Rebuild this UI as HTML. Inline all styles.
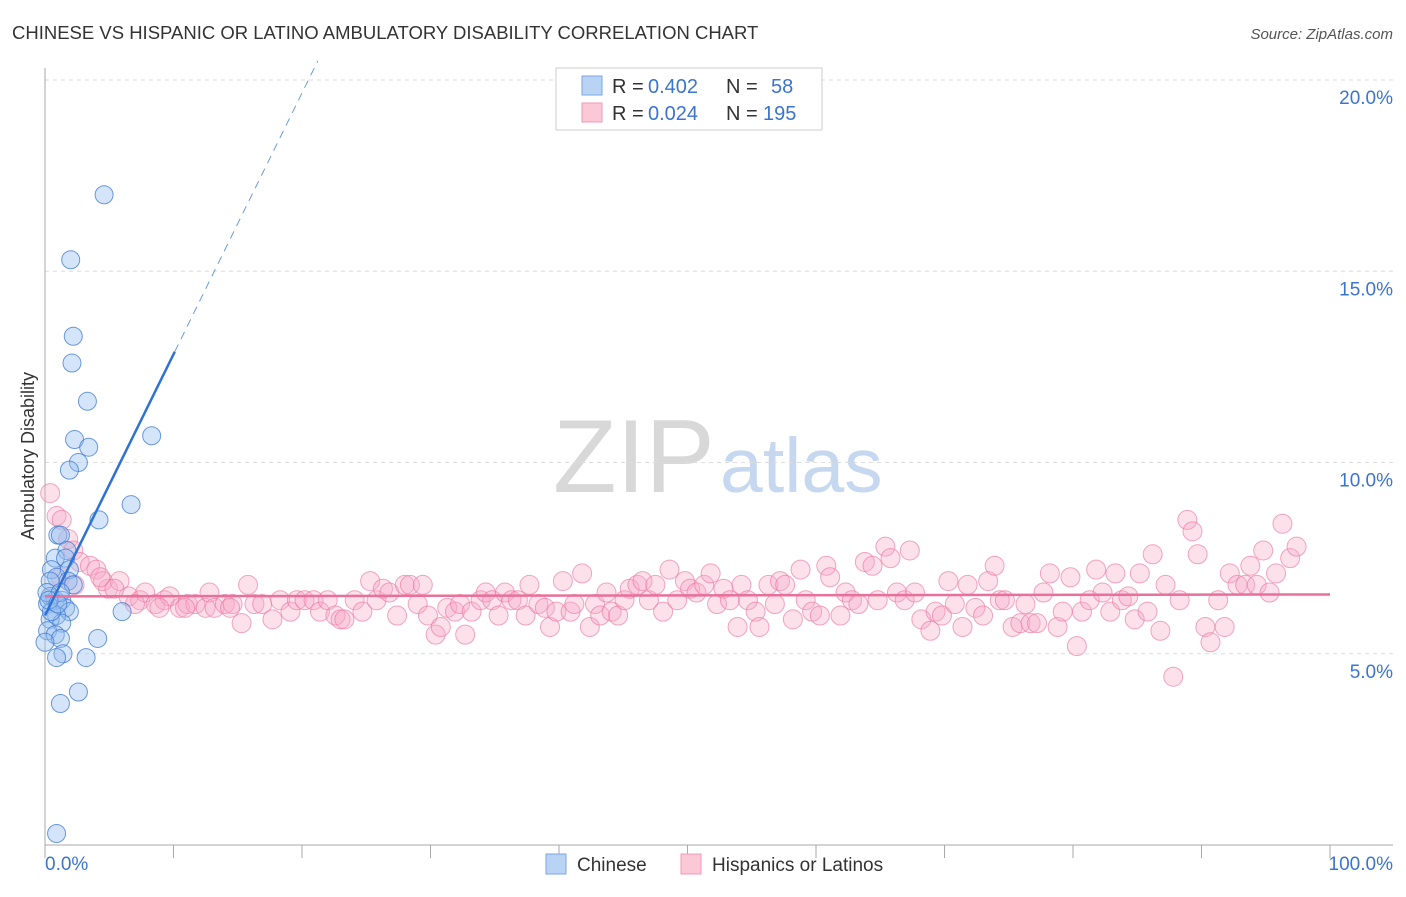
<!DOCTYPE html>
<html><head><meta charset="utf-8">
<style>
body{margin:0;background:#fff;font-family:"Liberation Sans",sans-serif;}
svg text{font-family:"Liberation Sans",sans-serif;}
</style></head>
<body>
<svg id="chart" width="1406" height="892" xmlns="http://www.w3.org/2000/svg">
<text x="12" y="39" font-size="18.5" fill="#333">CHINESE VS HISPANIC OR LATINO AMBULATORY DISABILITY CORRELATION CHART</text>
<text x="1393" y="39" font-size="15" fill="#555" text-anchor="end" font-style="italic">Source: ZipAtlas.com</text>
<g>
<text x="553" y="492" font-size="104" font-family="Liberation Serif" fill="#d8d8d8">ZIP</text>
<text x="720" y="492" font-size="77" fill="#c6d8f0">atlas</text>
</g>
<text transform="translate(34,456) rotate(-90)" font-size="18" fill="#333" text-anchor="middle">Ambulatory Disability</text>
<g id="grid"></g>
<g id="axes"></g>
<g id="marks"></g>
<g>
<rect x="556" y="68" width="266" height="62" fill="#fff" stroke="#ccc"/>
<rect x="582" y="76" width="20" height="19" fill="#b9d3f5" stroke="#7aa6e6"/>
<text x="612" y="93" font-size="20" fill="#333">R =</text>
<text x="648" y="93" font-size="20" fill="#3b74d0">0.402</text>
<text x="726" y="93" font-size="20" fill="#333">N =</text>
<text x="771" y="93" font-size="20" fill="#3b74d0">58</text>
<rect x="582" y="103" width="20" height="19" fill="#fbc8d8" stroke="#f09ab8"/>
<text x="612" y="120" font-size="20" fill="#333">R =</text>
<text x="648" y="120" font-size="20" fill="#3b74d0">0.024</text>
<text x="726" y="120" font-size="20" fill="#333">N =</text>
<text x="763" y="120" font-size="20" fill="#3b74d0">195</text>
</g>
<g>
<rect x="546" y="854" width="20" height="20" fill="#b9d3f5" stroke="#7aa6e6"/>
<text x="577" y="871" font-size="19" fill="#333">Chinese</text>
<rect x="681" y="854" width="20" height="20" fill="#fbc8d8" stroke="#f09ab8"/>
<text x="712" y="871" font-size="19" fill="#333">Hispanics or Latinos</text>
</g>
</svg>
<script>
const yTicks=[5,10,15,20];
const yTickLabels=["5.0%","10.0%","15.0%","20.0%"];
const xTickValues=[0,10,20,30,40,50,60,70,80,90,100];
const xEndLabels=["0.0%","100.0%"];
const blueX=[4.6,2.0,2.2,2.1,3.3,8.3,2.3,3.4,2.6,1.9,6.7,4.2,1.0,1.2,1.7,0.8,1.6,0.5,1.9,0.9,1.8,0.4,2.2,0.4,0.8,1.3,0.2,1.6,1.9,6.0,0.9,0.4,1.3,0.2,0.8,1.2,4.1,1.4,0.9,3.2,2.6,1.2,0.9,0.15,0.5,1.2,0.0,0.3,1.0];
const blueY=[17.0,15.3,13.3,12.6,11.6,10.7,10.6,10.4,10.0,9.8,8.9,8.5,8.1,8.1,7.7,7.5,7.5,7.2,7.2,7.0,6.9,6.9,6.8,6.5,6.4,6.4,6.3,6.2,6.1,6.1,6.0,5.9,5.8,5.6,5.5,5.4,5.4,5.0,4.9,4.9,4.0,3.7,0.3,6.6,6.1,6.6,5.3,6.4,6.3];
const pinkX=[0.4,0.9,1.3,1.8,2.2,2.7,3.5,4.0,4.9,4.5,5.8,6.5,7.4,7.8,8.6,9.3,9.7,10.5,11.1,11.7,12.5,12.8,13.2,14.0,14.6,15.3,15.8,16.3,16.9,17.7,18.3,19.1,19.6,20.2,20.9,21.4,22.0,22.6,23.0,23.3,24.1,24.7,25.3,25.8,26.3,26.8,27.4,28.0,28.4,29.0,29.4,29.8,30.4,30.8,31.3,31.9,32.3,32.7,33.2,33.9,34.3,34.8,35.3,35.8,36.3,36.8,37.4,37.7,38.4,38.9,39.3,39.8,40.3,40.9,41.2,41.8,42.4,42.8,43.2,43.7,44.1,44.6,45.1,45.5,46.1,46.5,47.0,47.5,48.1,48.6,49.2,49.8,50.2,50.7,51.3,51.8,52.3,52.8,53.3,53.9,54.2,54.7,55.3,55.6,56.3,56.8,57.2,57.6,58.2,58.8,59.2,59.7,60.3,60.8,61.1,61.9,62.3,62.8,63.3,63.8,64.4,64.8,65.4,65.8,66.3,66.9,67.3,67.7,68.2,68.9,69.3,69.8,70.3,70.8,71.4,71.8,72.4,73.0,73.4,73.9,74.3,74.7,75.3,75.9,76.3,76.7,77.2,77.7,78.2,78.8,79.2,79.8,80.3,80.7,81.3,81.8,82.3,82.9,83.3,83.8,84.3,84.8,85.2,85.8,86.2,86.8,87.2,87.8,88.3,88.9,89.3,89.7,90.3,90.7,91.3,91.8,92.2,92.8,93.4,93.8,94.3,94.8,95.3,95.8,96.3,96.9,97.4,1.2,2.3,4.3,5.4,7.0,8.9,10.9,14.4];
const pinkY=[9.2,8.6,8.5,8.0,7.7,7.4,7.3,7.2,6.7,6.9,6.9,6.5,6.4,6.6,6.3,6.4,6.5,6.2,6.3,6.3,6.2,6.6,6.2,6.3,6.3,5.8,6.8,6.3,6.3,5.9,6.4,6.1,6.4,6.4,6.4,6.1,6.4,6.0,5.9,5.9,6.4,6.1,6.9,6.4,6.7,6.6,6.0,6.8,6.8,6.3,6.8,6.0,5.5,5.7,6.2,6.1,6.3,5.5,6.1,6.4,6.6,6.4,6.0,6.6,6.4,6.4,6.0,6.8,6.3,6.2,5.7,6.1,6.9,6.1,6.3,7.1,5.7,6.3,6.0,6.6,6.1,6.0,6.4,6.7,6.8,6.9,6.4,6.8,6.1,7.2,6.4,6.9,6.7,6.6,6.8,7.1,6.3,6.7,6.4,5.7,6.8,6.4,6.1,5.7,6.8,6.3,6.9,6.8,5.9,7.2,6.4,6.1,6.0,7.3,7.0,6.0,6.6,6.4,6.3,7.4,7.3,6.4,7.8,7.5,6.6,6.4,7.7,6.6,5.9,5.6,6.1,6.0,6.9,6.3,5.7,6.8,6.2,6.0,6.9,7.3,6.4,6.4,5.7,5.8,6.3,5.8,5.8,6.6,7.1,5.7,6.1,7.0,5.2,6.1,6.4,7.2,6.6,6.1,7.1,6.4,6.5,5.9,7.1,6.1,7.6,5.6,6.8,4.4,6.4,8.5,8.2,7.6,5.7,5.3,6.4,5.7,7.1,6.8,6.8,7.3,6.8,7.7,6.6,7.1,8.4,7.5,7.8,7.0,6.8,7.0,6.7,6.3,6.2,6.2,6.2];
const blueFit=[6.0,0.683];
const pinkFit=[6.5,0.0005];

const X0=45,X1=1330,Y0=845,Y20=80;
const xs=v=>X0+(X1-X0)*v/100;
const ys=v=>Y0-(Y0-Y20)*v/20;
const NS="http://www.w3.org/2000/svg";
function mk(parent,tag,attrs){const e=document.createElementNS(NS,tag);for(const k in attrs)e.setAttribute(k,attrs[k]);parent.appendChild(e);return e;}
const grid=document.getElementById('grid'),axes=document.getElementById('axes'),marks=document.getElementById('marks');
yTicks.forEach((t,i)=>{
  const l=mk(grid,'line',{x1:X0,x2:1393,y1:ys(t),y2:ys(t),stroke:'#ddd','stroke-dasharray':'4,4'});
  
  
  const tx=mk(axes,'text',{x:1393,y:ys(t)+24,'font-size':19,fill:'#3b74d0','text-anchor':'end'});
  tx.textContent=yTickLabels[i];
  
  
});
const al=mk(axes,'line',{x1:X0,x2:X0,y1:68,y2:Y0,stroke:'#aaa'});


const bl=mk(axes,'line',{x1:X0,x2:1393,y1:Y0,y2:Y0,stroke:'#aaa'});


xTickValues.forEach(t=>{
  const tk=mk(axes,'line',{x1:xs(t),x2:xs(t),y1:Y0,y2:Y0+13,stroke:'#aaa'});
  
  
});
const xl0=mk(axes,'text',{x:X0,y:870,'font-size':19,fill:'#3b74d0','text-anchor':'start'});xl0.textContent=xEndLabels[0];


const xl1=mk(axes,'text',{x:1393,y:870,'font-size':19,fill:'#3b74d0','text-anchor':'end'});xl1.textContent=xEndLabels[1];


pinkX.forEach((x,i)=>{
  const c=mk(marks,'circle',{cx:xs(x),cy:ys(pinkY[i]),r:9.5,fill:'rgba(247,170,198,0.35)',stroke:'rgba(236,120,160,0.65)','stroke-width':1});
  
  
});
blueX.forEach((x,i)=>{
  const c=mk(marks,'circle',{cx:xs(x),cy:ys(blueY[i]),r:9,fill:'rgba(150,190,240,0.4)',stroke:'rgba(60,120,210,0.75)','stroke-width':1});
  
  
});
const pl=mk(marks,'line',{x1:xs(0),y1:ys(pinkFit[0]),x2:xs(100),y2:ys(pinkFit[0]+pinkFit[1]*100),stroke:'#e8709a','stroke-width':2.5});


const bEnd=10.1,bDash=(20.5-blueFit[0])/blueFit[1];
const b1=mk(marks,'line',{x1:xs(0),y1:ys(blueFit[0]),x2:xs(bEnd),y2:ys(blueFit[0]+blueFit[1]*bEnd),stroke:'#2f72d6','stroke-width':2.5});


const b2=mk(marks,'line',{x1:xs(bEnd),y1:ys(blueFit[0]+blueFit[1]*bEnd),x2:xs(bDash),y2:ys(20.5),stroke:'#6b9be0','stroke-width':1,'stroke-dasharray':'8,6'});


</script>
</body></html>
